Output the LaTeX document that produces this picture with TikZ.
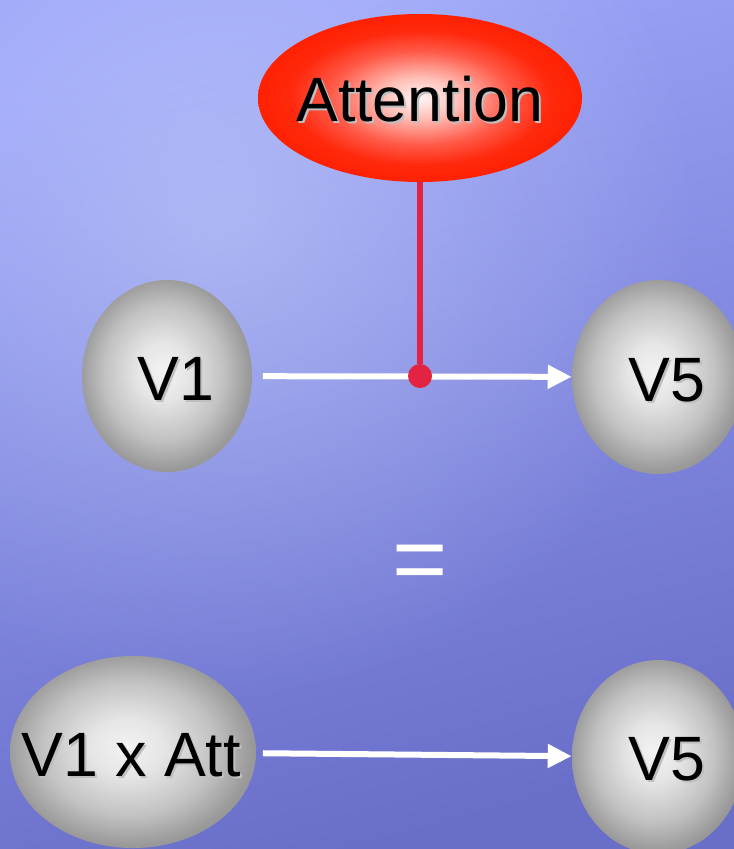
\documentclass[tikz,border=0pt]{standalone}
\usepackage{fontspec}
\setmainfont{Liberation Sans}
\usetikzlibrary{shapes.geometric,arrows.meta,fadings}
\definecolor{redline}{RGB}{228,34,66}
\definecolor{bgtop}{RGB}{154,163,247}
\definecolor{bgbot}{RGB}{105,110,201}
\definecolor{bglight}{RGB}{215,225,255}
\tikzfading[name=hlfade, inner color=transparent!58, outer color=transparent!100]
\pgfdeclareradialshading{grayball}{\pgfpoint{-1.5bp}{1.5bp}}{rgb(0bp)=(0.95,0.95,0.95); rgb(7.5bp)=(0.9,0.9,0.9); rgb(17.5bp)=(0.76,0.76,0.76); rgb(25bp)=(0.6,0.6,0.6); rgb(30bp)=(0.58,0.58,0.58); rgb(50bp)=(0.58,0.58,0.58)}
\pgfdeclareradialshading{redball}{\pgfpoint{0bp}{0bp}}{rgb(0bp)=(1,0.96,0.96); rgb(6bp)=(1,0.75,0.72); rgb(14bp)=(1,0.35,0.28); rgb(20bp)=(1,0.16,0.05); rgb(25bp)=(1,0.13,0); rgb(50bp)=(1,0.13,0)}
\newcommand\shtxt[1]{\leavevmode\rlap{\kern1.5pt\raisebox{-1.5pt}{\textcolor{black!25}{#1}}}#1}
\begin{document}
\begin{tikzpicture}[x=0.75pt,y=-0.75pt,
  ball/.style={ellipse, inner sep=0pt, shading=grayball},
  redball/.style={ellipse, inner sep=0pt, shading=redball},
  lbl/.style={inner sep=0pt, font=\fontsize{47}{56}\selectfont},
  whitearrow/.style={white, line width=4.5pt, -{Triangle[length=18pt,width=17pt]}},
  redconn/.style={redline, line width=4.5pt}]
\useasboundingbox (0,0) rectangle (734,849);
\begin{scope}
\clip (0,0) rectangle (734,849);
\shade[top color=bgtop, bottom color=bgbot, shading angle=15] (0,0) rectangle (734,849);
\fill[bglight, path fading=hlfade] (220,220) circle (480);
\node[redball, minimum width=243pt, minimum height=126pt] (att) at (420,98) {};
\node[ball, minimum width=127.5pt, minimum height=144pt] (v1) at (167,376) {};
\node[ball, minimum width=129pt, minimum height=145.5pt] (v5) at (658,377) {};
\node[ball, minimum width=184.5pt, minimum height=144pt] (v1a) at (133,752) {};
\node[ball, minimum width=129pt, minimum height=145.5pt] (v5b) at (658,757) {};
\end{scope}
\node[lbl] (attt) at (420,100) {\shtxt{Attention}};
\node[lbl] (v1t) at (176,380) {\shtxt{V1}};
\node[lbl] (v5t) at (667,381) {\shtxt{V5}};
\node[lbl] (v1at) at (131,756) {\shtxt{V1 x Att}};
\node[lbl] (v5bt) at (667,760) {\shtxt{V5}};
\draw[whitearrow, shorten <=8pt] (v1) -- (v5);
\node[circle, fill=redline, inner sep=0pt, minimum size=18pt] (dot) at (420,376) {};
\draw[redconn] (att) -- (dot);
\draw[whitearrow, shorten <=5pt] (v1a) -- (v5b);
\node[text=white, font=\fontsize{71}{80}\selectfont, anchor=base, inner sep=0pt] (eq) at (420,591) {=};
\end{tikzpicture}
\end{document}
